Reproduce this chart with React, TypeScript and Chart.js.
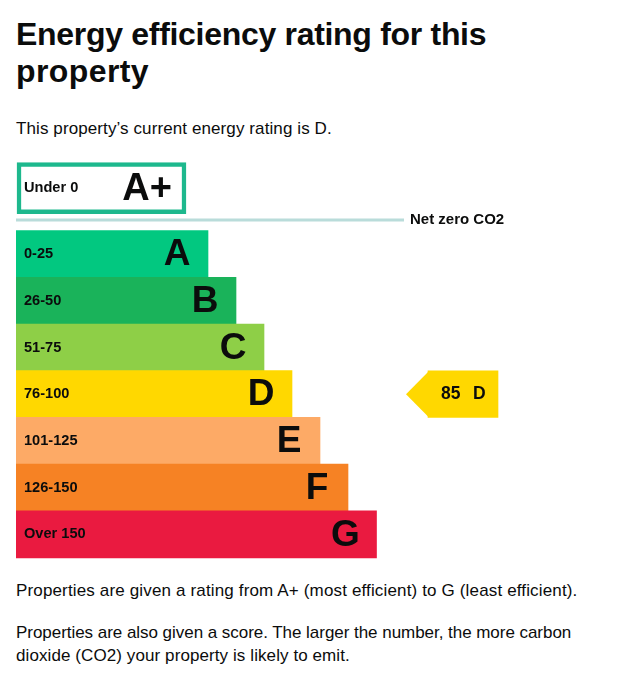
import { useRef, useEffect } from 'react';
import { Chart, registerables } from 'chart.js';

Chart.register(...registerables);

// Rating bands, best to worst. Rows sit on a score axis, 25 points per band.
const letters = ['A', 'B', 'C', 'D', 'E', 'F', 'G'];
const ranges = ['0-25', '26-50', '51-75', '76-100', '101-125', '126-150', 'Over 150'];
const rowScores = [12.5, 37.5, 62.5, 87.5, 112.5, 137.5, 162.5];
const barLengths = [192, 220, 248, 276, 304, 332, 360.5];
const bandColors = ['#02c880', '#1ab35a', '#8ecf47', '#ffd800', '#fdaa66', '#f68224', '#ea1a40'];

const topLetter = 'A+';
const topRange = 'Under 0';
const topRow = -22.8;
const topSpan: [number, number] = [1, 170];

const netZeroLabel = 'Net zero CO2';
const netZeroScore = -5.8;
const netZeroLength = 388;

const currentScore = 85;
const currentLetter = 'D';
const currentRow = 87.5;
const currentSpan: [number, number] = [412, 482];

const labelFont = 'bold 14.6px "Liberation Sans", Arial, sans-serif';
const letterFont = 'bold 37px "Liberation Sans", Arial, sans-serif';

const labelsPlugin = {
  id: 'ratingLabels',
  afterDatasetsDraw(chart: Chart) {
    const { ctx, scales } = chart;
    const x = scales.x;
    const y = scales.y;
    ctx.save();
    ctx.textBaseline = 'middle';

    // pointer for the current rating: a bar with a tip on its left side
    const bar: any = chart.getDatasetMeta(2).data[0];
    const half = bar.height / 2;
    const left = Math.min(bar.x, bar.base);
    ctx.fillStyle = bandColors[3];
    ctx.beginPath();
    ctx.moveTo(left + 1, bar.y - half);
    ctx.lineTo(left - 22, bar.y);
    ctx.lineTo(left + 1, bar.y + half);
    ctx.closePath();
    ctx.fill();

    ctx.fillStyle = '#0b0c0c';
    ctx.textAlign = 'left';
    ctx.font = labelFont;
    ctx.fillText(topRange, x.getPixelForValue(8), y.getPixelForValue(topRow));
    ranges.forEach((r, i) => {
      ctx.fillText(r, x.getPixelForValue(8), y.getPixelForValue(rowScores[i]));
    });
    ctx.font = 'bold 15px "Liberation Sans", Arial, sans-serif';
    ctx.fillText(netZeroLabel, x.getPixelForValue(netZeroLength + 6), y.getPixelForValue(netZeroScore));

    ctx.font = 'bold 17.5px "Liberation Sans", Arial, sans-serif';
    ctx.fillText(String(currentScore), x.getPixelForValue(425), y.getPixelForValue(currentRow));
    ctx.fillText(currentLetter, x.getPixelForValue(457), y.getPixelForValue(currentRow));

    ctx.font = letterFont;
    ctx.textAlign = 'center';
    letters.forEach((l, i) => {
      ctx.fillText(l, x.getPixelForValue(barLengths[i] - 31), y.getPixelForValue(rowScores[i]) + 1);
    });
    ctx.textAlign = 'right';
    ctx.font = 'bold 38px "Liberation Sans", Arial, sans-serif';
    ctx.fillText(topLetter, x.getPixelForValue(topSpan[1] - 14), y.getPixelForValue(topRow) + 1);
    ctx.restore();
  },
};

const textFont = '"Liberation Sans", Arial, sans-serif';

function Line({ top, size, bold, spacing, children }: { top: number; size: number; bold?: boolean; spacing?: number; children: string }) {
  return (
    <div
      style={{
        position: 'absolute',
        left: 16,
        top,
        fontFamily: textFont,
        fontSize: size,
        fontWeight: bold ? 700 : 400,
        letterSpacing: spacing ?? 0,
        lineHeight: `${Math.round(size * 1.2)}px`,
        whiteSpace: 'nowrap',
        color: '#0b0c0c',
      }}
    >
      {children}
    </div>
  );
}

export default function App() {
  const canvasRef = useRef<HTMLCanvasElement>(null);

  useEffect(() => {
    if (!canvasRef.current) return;
    const chart = new Chart(canvasRef.current, {
      type: 'bar',
      data: {
        datasets: [
          {
            data: rowScores.map((s, i) => ({ x: barLengths[i], y: s })),
            backgroundColor: bandColors,
            barThickness: 47,
            order: 3,
          } as any,
          {
            data: [{ x: topSpan, y: topRow }],
            backgroundColor: '#ffffff',
            borderColor: '#1db88d',
            borderWidth: 4.5,
            borderSkipped: false,
            barThickness: 51,
            order: 2,
          } as any,
          {
            data: [{ x: currentSpan, y: currentRow }],
            backgroundColor: bandColors[3],
            barThickness: 46.5,
            order: 2,
          } as any,
          {
            type: 'line',
            data: [
              { x: 0, y: netZeroScore },
              { x: netZeroLength, y: netZeroScore },
            ],
            borderColor: '#b9dcda',
            borderWidth: 3,
            pointRadius: 0,
            order: 1,
          } as any,
        ],
      },
      options: {
        indexAxis: 'y',
        responsive: false,
        animation: false,
        layout: { padding: { left: 16 } },
        datasets: { bar: { grouped: false } } as any,
        plugins: { legend: { display: false }, tooltip: { enabled: false } },
        scales: {
          x: { type: 'linear', min: 0, max: 603, display: false },
          y: { type: 'linear', min: -40, max: 180, reverse: true, offset: false, display: false },
        },
      },
      plugins: [labelsPlugin],
    });
    return () => chart.destroy();
  }, []);

  return (
    <div style={{ position: 'absolute', left: 0, top: 0, width: 619, height: 685, background: '#fff', overflow: 'hidden' }}>
      <Line top={15} size={32} bold spacing={-0.3}>{'Energy efficiency rating for this'}</Line>
      <Line top={52} size={32} bold spacing={0.4}>{'property'}</Line>
      <Line top={119} size={17} spacing={0.1}>{'This property’s current energy rating is D.'}</Line>
      <canvas
        ref={canvasRef}
        width={619}
        height={411}
        style={{ position: 'absolute', left: 0, top: 156, width: 619, height: 411 }}
        role="img"
        aria-label="Energy efficiency rating bands from A+ to G, with the current score of 85 in band D."
      />
      <Line top={581} size={17} spacing={0.15}>{'Properties are given a rating from A+ (most efficient) to G (least efficient).'}</Line>
      <Line top={623} size={17} spacing={-0.04}>{'Properties are also given a score. The larger the number, the more carbon'}</Line>
      <Line top={646} size={17} spacing={0.09}>{'dioxide (CO2) your property is likely to emit.'}</Line>
    </div>
  );
}
